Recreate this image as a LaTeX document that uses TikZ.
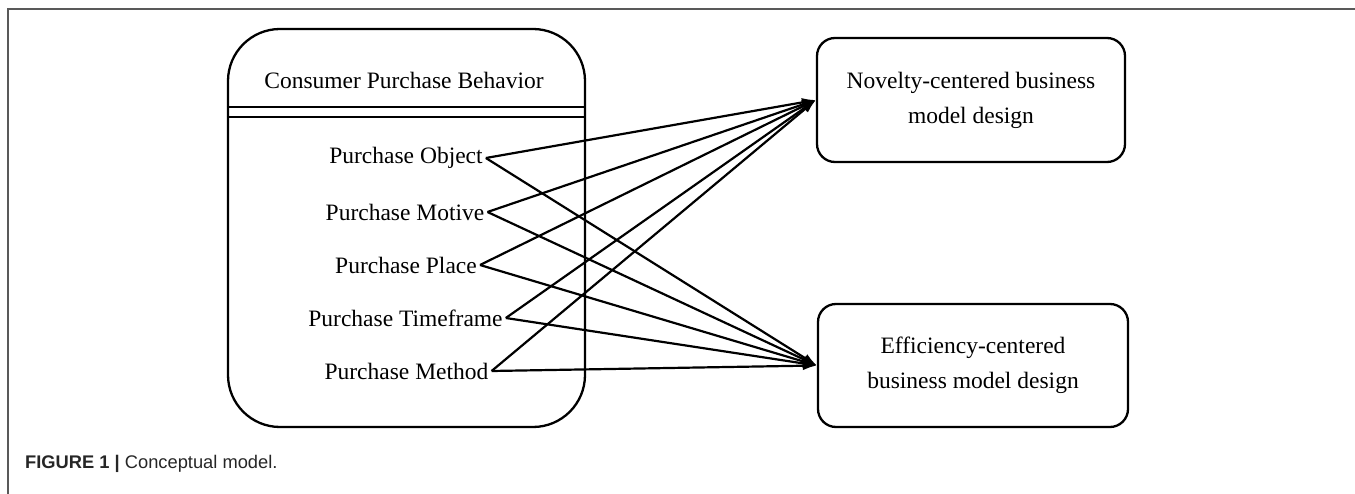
\documentclass[tikz,border=0pt]{standalone}
\usepackage{fontspec}
\setmainfont{Liberation Serif}
\newfontfamily\capfont{Liberation Sans}
\usetikzlibrary{arrows.meta}
\begin{document}
\begin{tikzpicture}[x=1pt,y=-1pt,
  txt/.style={font=\fontsize{23.5}{35}\selectfont},
  item/.style={txt,inner xsep=3pt,inner ysep=0pt},
  bigbox/.style={draw,line width=2.3pt,rounded corners=52pt,minimum width=357pt,minimum height=398pt,inner sep=0pt},
  rbox/.style={draw,line width=2.3pt,rounded corners=18pt,txt,align=center,inner sep=0pt},
  conn/.style={line width=2.2pt,-{Latex[length=14pt,width=9pt]}},
  frame/.style={draw=black!65,line width=1.6pt}]
\useasboundingbox (0,0) rectangle (1355,494);
\draw[frame] (8,494) -- (8,9) -- (1355,9);
% left box
\node[bigbox] (cpb) at (406.5,228) {};
\node[txt] (title) at (404,80) {Consumer Purchase Behavior};
\draw[line width=2pt] (cpb.west |- 0,107) -- (cpb.east |- 0,107);
\draw[line width=2pt] (cpb.west |- 0,117) -- (cpb.east |- 0,117);
\node[item] (o) at (406,158) {Purchase Object};
\node[item] (m) at (405,212) {Purchase Motive};
\node[item] (p) at (406,265) {Purchase Place};
\node[item] (t) at (405.5,318) {Purchase Timeframe};
\node[item] (me) at (406.5,371) {Purchase Method};
% right boxes
\node[rbox,minimum width=308pt,minimum height=124pt] (nov) at (971,100) {Novelty-centered business\\model design};
\node[rbox,minimum width=310pt,minimum height=123pt] (eff) at (973,365.5) {Efficiency-centered\\business model design};
% connectors
\foreach \s in {o,m,p,t,me}{
  \draw[conn] (\s.east) -- (nov.west);
  \draw[conn] (\s.east) -- (eff.west);
}
% caption
\node[anchor=base west,inner sep=0pt,text=black!85,font=\capfont\fontsize{18.3}{20}\selectfont] (cap) at (25,468) {\textbf{FIGURE 1 |} Conceptual model.};
\end{tikzpicture}
\end{document}
